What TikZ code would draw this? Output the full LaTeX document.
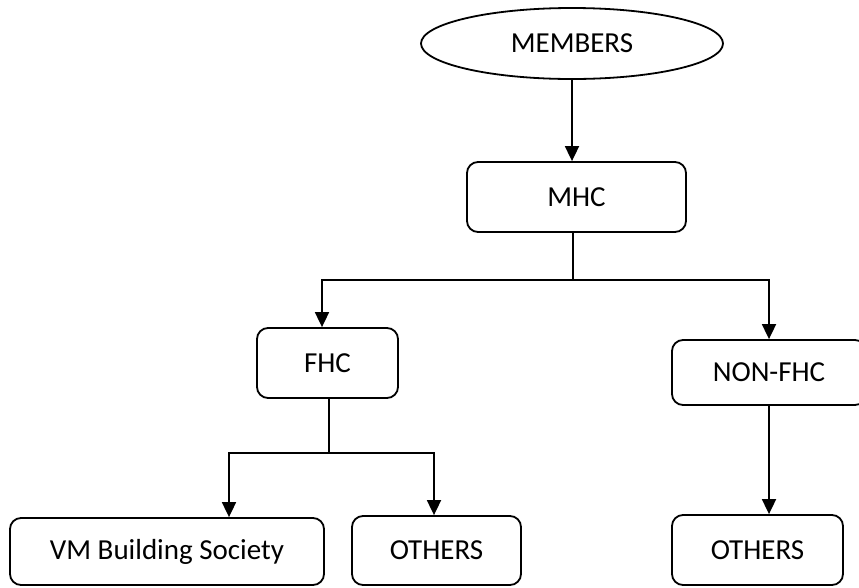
\documentclass[tikz,border=0pt]{standalone}
\usepackage{fontspec}
\setmainfont{Carlito}
\usetikzlibrary{arrows.meta,shapes.geometric}
\tikzset{
  conn/.style={line width=1.8pt},
  arr/.style={conn,-{Triangle[width=14pt,length=15pt]}},
  rbox/.style={draw,line width=1.8pt,rounded corners=11pt,inner sep=0pt,font=\fontsize{29}{32}\selectfont},
  oval/.style={draw,ellipse,line width=1.8pt,inner sep=0pt,font=\fontsize{29}{32}\selectfont}
}
\begin{document}
\begin{tikzpicture}[x=1pt,y=-1pt]
\useasboundingbox (0,0) rectangle (859,587);
\node[oval,minimum width=302pt,minimum height=71pt] (members) at (572,43.5) {MEMBERS};
\node[rbox,minimum width=219pt,minimum height=70pt] (mhc) at (576.5,197) {MHC};
\node[rbox,minimum width=141pt,minimum height=70pt] (fhc) at (327.5,363) {FHC};
\node[rbox,minimum width=194pt,minimum height=65pt] (nonfhc) at (769,372.5) {NON-FHC};
\node[rbox,minimum width=314pt,minimum height=67pt] (vm) at (167,551.5) {VM Building Society};
\node[rbox,minimum width=169pt,minimum height=69pt] (oth1) at (436.5,550.5) {OTHERS};
\node[rbox,minimum width=171pt,minimum height=70pt] (oth2) at (757.5,550) {OTHERS};
% coordinates
\coordinate (m1) at (573,232);
\coordinate (m2) at (573,280);
\coordinate (mL) at (322,280);
\coordinate (mR) at (769,280);
\coordinate (f1) at (329,398);
\coordinate (f2) at (329,453);
\coordinate (fL) at (229,453);
\coordinate (fR) at (434,453);
% connectors
\draw[arr] (members.south) -- (members.south |- mhc.north);
\draw[conn] (m1) -- (m2);
\draw[arr] (m2) -- (mL) -- (mL |- fhc.north);
\draw[arr] (m2) -- (mR) -- (mR |- nonfhc.north);
\draw[conn] (f1) -- (f2);
\draw[arr] (f2) -- (fL) -- (fL |- vm.north);
\draw[arr] (f2) -- (fR) -- (fR |- oth1.north);
\draw[arr] (mR |- nonfhc.south) -- (mR |- oth2.north);
\end{tikzpicture}
\end{document}
